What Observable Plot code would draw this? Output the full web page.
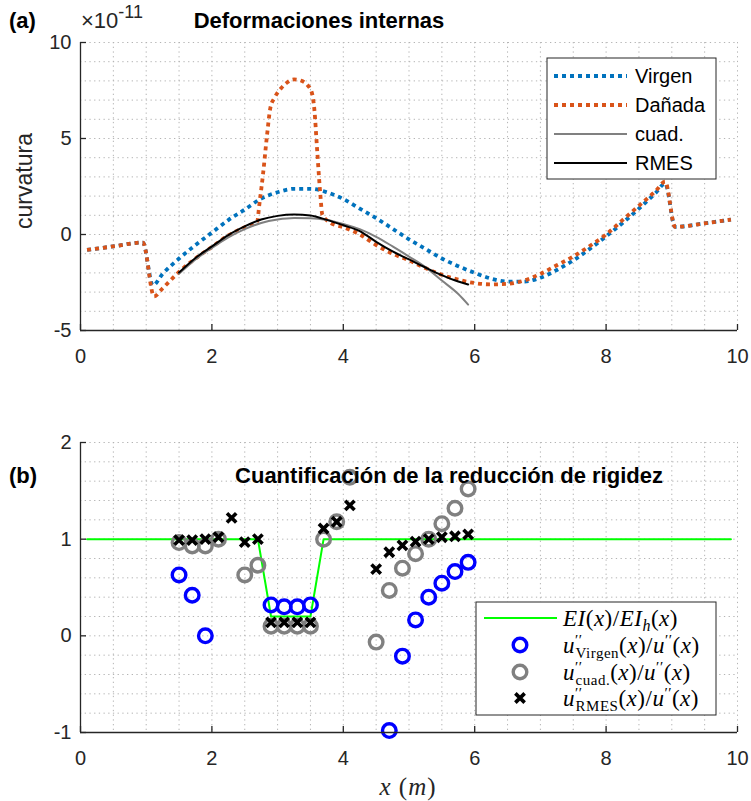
<!DOCTYPE html>
<html><head><meta charset="utf-8">
<script src="https://cdn.jsdelivr.net/npm/d3@7"></script>
<script src="https://cdn.jsdelivr.net/npm/@observablehq/plot@0.6"></script>
<style>
body{margin:0;background:#fff;}
#wrap{position:relative;width:751px;height:801px;}
#wrap svg{display:block;}
</style></head><body><div id="wrap"></div>
<script>
// ---------- Panel (a): curvatura (×1e-11) ----------
const xVirgen = [0.1,0.5,0.95,1.1,1.25,1.5,1.75,2.0,2.25,2.5,2.75,3.0,3.25,3.5,3.75,4.0,4.25,4.5,4.75,5.0,5.25,5.5,5.75,6.0,6.25,6.5,6.75,7.0,7.25,7.5,7.75,8.0,8.25,8.5,8.75,8.9,9.05,9.5,9.9];
const yVirgen = [-0.80,-0.62,-0.42,-2.65,-2.05,-1.25,-0.55,0.10,0.75,1.30,1.87,2.20,2.38,2.38,2.20,1.85,1.35,0.85,0.30,-0.25,-0.75,-1.25,-1.65,-2.00,-2.30,-2.45,-2.45,-2.25,-1.85,-1.35,-0.75,-0.10,0.60,1.35,2.15,2.65,0.40,0.58,0.78];

const xDanada = [0.1,0.5,0.95,1.12,1.25,1.5,1.75,2.0,2.25,2.5,2.69,2.72,2.78,2.84,2.89,2.95,3.05,3.15,3.25,3.35,3.45,3.52,3.56,3.6,3.65,3.68,3.8,4.0,4.25,4.5,4.75,5.0,5.25,5.5,5.75,6.0,6.25,6.5,6.75,7.0,7.25,7.5,7.75,8.0,8.25,8.5,8.75,8.9,9.05,9.5,9.9];
const yDanada = [-0.80,-0.62,-0.42,-3.22,-2.80,-1.95,-1.25,-0.65,-0.05,0.38,0.68,1.5,3.2,5.2,6.6,7.1,7.6,7.93,8.08,8.02,7.8,7.4,6.5,4.5,2.1,1.05,0.62,0.38,0.0,-0.55,-1.0,-1.35,-1.75,-2.1,-2.35,-2.53,-2.6,-2.57,-2.4,-2.05,-1.6,-1.15,-0.6,0.0,0.75,1.5,2.25,2.75,0.40,0.58,0.78];

const xFit = [1.5,1.75,2.0,2.25,2.5,2.75,3.0,3.25,3.5,3.75,4.0,4.25,4.5,4.75,5.0,5.25,5.5,5.75,5.9];
const yCuad = [-2.05,-1.3,-0.7,-0.15,0.28,0.6,0.78,0.86,0.85,0.76,0.55,0.28,-0.12,-0.62,-1.15,-1.7,-2.4,-3.1,-3.65];
const yRmes = [-1.98,-1.22,-0.62,-0.03,0.42,0.78,0.97,1.04,0.99,0.76,0.48,0.18,-0.38,-0.88,-1.3,-1.72,-2.12,-2.45,-2.6];

const xTicks = [0,2,4,6,8,10];
const yTicksA = [-5,0,5,10];
const xGrid = [0.5,1,1.5,2,2.5,3,3.5,4,4.5,5,5.5,6,6.5,7,7.5,8,8.5,9,9.5,10];
const yGridA = [-4,-3,-2,-1,0,1,2,3,4,5,6,7,8,9,10];

// ---------- Panel (b): reduction of stiffness ----------
const xEI = [0.1,2.7,2.9,3.5,3.7,9.9];
const yEI = [1,1,0.2,0.2,1,1];

const xRatioVirgen = [1.5,1.7,1.9,2.9,3.1,3.3,3.5,4.7,4.9,5.1,5.3,5.5,5.7,5.9];
const yRatioVirgen = [0.63,0.42,0.0,0.32,0.30,0.30,0.32,-0.98,-0.21,0.165,0.40,0.545,0.665,0.76];

const xRatioCuad = [1.5,1.7,1.9,2.1,2.5,2.7,2.9,3.1,3.3,3.5,3.7,3.9,4.1,4.5,4.7,4.9,5.1,5.3,5.5,5.7,5.9];
const yRatioCuad = [0.965,0.93,0.93,1.0,0.63,0.73,0.10,0.10,0.10,0.10,1.0,1.18,1.64,-0.065,0.47,0.70,0.85,1.0,1.16,1.32,1.52];

const xRatioRmes = [1.5,1.7,1.9,2.1,2.3,2.5,2.7,2.9,3.1,3.3,3.5,3.7,3.9,4.1,4.5,4.7,4.9,5.1,5.3,5.5,5.7,5.9];
const yRatioRmes = [0.99,0.99,1.0,1.02,1.22,0.97,1.0,0.14,0.14,0.14,0.14,1.11,1.18,1.35,0.69,0.865,0.935,0.975,1.0,1.02,1.03,1.05];

const yTicksB = [-1,0,1,2];
const yGridB = [-0.8,-0.6,-0.4,-0.2,0,0.2,0.4,0.6,0.8,1,1.2,1.4,1.6,1.8,2];

// ---------- helpers ----------
const zip = (xs, ys) => xs.map((x, i) => ({x, y: ys[i]}));
const AX = "#262626";
const GRID = {stroke: "#b4b4b4", strokeWidth: 1, strokeDasharray: "1.3,3.4"};
const BLUE = "#0072BD", ORANGE = "#D95319", GRAY = "#808080";
const DOT = {strokeWidth: 3.8, strokeDasharray: "4,4", strokeLinecap: "butt"};
const W = 751, ML = 80, MR = 14;
const FW = W - ML - MR;
const fmt = d => String(d);
const style = {fontFamily: '"Liberation Sans", Arial, sans-serif', fontSize: "20px", color: AX, background: "white", overflow: "visible"};

// ---------- Plot (a) ----------
const HA = 390, MTA = 42, MBA = 60, FHA = HA - MTA - MBA;
const svgA = Plot.plot({
  width: W, height: HA, marginLeft: ML, marginRight: MR, marginTop: MTA, marginBottom: MBA,
  style,
  x: {domain: [0, 10]},
  y: {domain: [-5, 10]},
  marks: [
    Plot.ruleX(xGrid, GRID),
    Plot.ruleY(yGridA, GRID),
    Plot.line(zip(xVirgen, yVirgen), {x: "x", y: "y", stroke: BLUE, ...DOT, curve: "monotone-x"}),
    Plot.line(zip(xDanada, yDanada), {x: "x", y: "y", stroke: ORANGE, ...DOT, curve: "monotone-x"}),
    Plot.line(zip(xFit, yCuad), {x: "x", y: "y", stroke: GRAY, strokeWidth: 2, curve: "monotone-x"}),
    Plot.line(zip(xFit, yRmes), {x: "x", y: "y", stroke: "black", strokeWidth: 2, curve: "monotone-x"}),
    Plot.ruleX([0], {stroke: AX, strokeWidth: 1.3}),
    Plot.ruleY([-5], {stroke: AX, strokeWidth: 1.3}),
    Plot.ruleX(xTicks, {stroke: AX, strokeWidth: 1.3, insetTop: FHA - 6}),
    Plot.ruleY(yTicksA, {stroke: AX, strokeWidth: 1.3, insetRight: FW - 6}),
    Plot.axisX(xTicks, {tickSize: 0, tickPadding: 18, label: null, tickFormat: fmt}),
    Plot.axisY(yTicksA, {tickSize: 0, tickPadding: 9, label: null, tickFormat: fmt})
  ]
});

// ---------- Plot (b) ----------
const HB = 411, MTB = 52, MBB = 69, FHB = HB - MTB - MBB;
const svgB = Plot.plot({
  width: W, height: HB, marginLeft: ML, marginRight: MR, marginTop: MTB, marginBottom: MBB,
  style,
  x: {domain: [0, 10]},
  y: {domain: [-1, 2]},
  marks: [
    Plot.ruleX(xGrid, GRID),
    Plot.ruleY(yGridB, GRID),
    Plot.line(zip(xEI, yEI), {x: "x", y: "y", stroke: "#00FF00", strokeWidth: 2}),
    Plot.dot(zip(xRatioVirgen, yRatioVirgen), {x: "x", y: "y", r: 6.8, stroke: "#0000FF", strokeWidth: 3.4, fill: "none"}),
    Plot.dot(zip(xRatioCuad, yRatioCuad), {x: "x", y: "y", r: 6.8, stroke: GRAY, strokeWidth: 3.4, fill: "none"}),
    Plot.dot(zip(xRatioRmes, yRatioRmes), {x: "x", y: "y", symbol: "times", r: 4.3, stroke: "black", strokeWidth: 3.6}),
    Plot.ruleX([0], {stroke: AX, strokeWidth: 1.3}),
    Plot.ruleY([-1], {stroke: AX, strokeWidth: 1.3}),
    Plot.ruleX(xTicks, {stroke: AX, strokeWidth: 1.3, insetTop: FHB - 6}),
    Plot.ruleY(yTicksB, {stroke: AX, strokeWidth: 1.3, insetRight: FW - 6}),
    Plot.axisX(xTicks, {tickSize: 0, tickPadding: 18, label: null, tickFormat: fmt}),
    Plot.axisY(yTicksB, {tickSize: 0, tickPadding: 9, label: null, tickFormat: fmt})
  ]
});

const wrap = document.getElementById("wrap");
wrap.append(svgA, svgB);

const txt = (sel, x, y, anchor = "start") => sel.append("text").attr("x", x).attr("y", y).attr("text-anchor", anchor);

// ---------- annotations panel (a) ----------
const A = d3.select(svgA);
txt(A, 9, 28).attr("font-weight", "bold").attr("font-size", 22).attr("fill", "#000").text("(a)");
txt(A, 319, 28, "middle").attr("font-weight", "bold").attr("font-size", 22).attr("fill", "#000").text("Deformaciones internas");
txt(A, 81, 28).attr("font-size", 22).attr("fill", AX)
  .html('×10<tspan dy="-10" font-size="18">-11</tspan>');
A.append("text").attr("transform", "translate(32,181) rotate(-90)").attr("text-anchor", "middle").attr("font-size", 23).attr("fill", AX).text("curvatura");

const legA = A.append("g");
legA.append("rect").attr("x", 547).attr("y", 58).attr("width", 169).attr("height", 121).attr("fill", "white").attr("stroke", AX).attr("stroke-width", 1);
const itemsA = [
  {label: "Virgen", stroke: BLUE, dash: true},
  {label: "Dañada", stroke: ORANGE, dash: true},
  {label: "cuad.", stroke: GRAY, dash: false},
  {label: "RMES", stroke: "black", dash: false}
];
itemsA.forEach((d, i) => {
  const cy = 76 + i * 29;
  const ln = legA.append("line").attr("x1", 554).attr("x2", 627).attr("y1", cy).attr("y2", cy).attr("stroke", d.stroke);
  if (d.dash) ln.attr("stroke-width", 3.8).attr("stroke-dasharray", "4,4"); else ln.attr("stroke-width", 2);
  txt(legA, 635, cy).attr("dy", "0.36em").attr("font-size", 20).attr("fill", "#000").text(d.label);
});

// ---------- annotations panel (b) ----------
const B = d3.select(svgB);
txt(B, 9, 93).attr("font-weight", "bold").attr("font-size", 22).attr("fill", "#000").text("(b)");
txt(B, 449, 93, "middle").attr("font-weight", "bold").attr("font-size", 22).attr("fill", "#000").text("Cuantificación de la reducción de rigidez");
txt(B, 408, 405, "middle").attr("font-family", '"Liberation Serif", serif').attr("font-size", 25).attr("fill", AX).attr("letter-spacing", 1)
  .html('<tspan font-style="italic">x</tspan> (<tspan font-style="italic">m</tspan>)');

const legB = B.append("g");
legB.append("rect").attr("x", 476).attr("y", 212).attr("width", 240).attr("height", 113).attr("fill", "white").attr("stroke", AX).attr("stroke-width", 1);
const serif = '"Liberation Serif", serif';
const it = s => `<tspan font-style="italic">${s}</tspan>`;
const pp = (sub) => `${it("u")}<tspan font-size="15" dy="-8">′′</tspan><tspan font-size="15" dx="-7" dy="13">${sub}</tspan><tspan dy="-5">(</tspan>${it("x")})/${it("u")}<tspan font-size="15" dy="-8">′′</tspan><tspan dy="8">(</tspan>${it("x")})`;
const labelsB = [
  `${it("EI")}(${it("x")})/${it("EI")}<tspan font-style="italic" font-size="16" dy="5">h</tspan><tspan dy="-5">(</tspan>${it("x")})`,
  pp("Virgen"), pp("cuad."), pp("RMES")
];
const cyB = [228, 255, 282, 308];
legB.append("line").attr("x1", 484).attr("x2", 557).attr("y1", cyB[0]).attr("y2", cyB[0]).attr("stroke", "#00FF00").attr("stroke-width", 2);
legB.append("circle").attr("cx", 520).attr("cy", cyB[1]).attr("r", 6.8).attr("fill", "none").attr("stroke", "#0000FF").attr("stroke-width", 3.4);
legB.append("circle").attr("cx", 520).attr("cy", cyB[2]).attr("r", 6.8).attr("fill", "none").attr("stroke", GRAY).attr("stroke-width", 3.4);
legB.append("path").attr("d", d3.symbol(d3.symbolTimes, Math.PI * 4.3 * 4.3)()).attr("transform", `translate(520,${cyB[3]})`).attr("fill", "none").attr("stroke", "black").attr("stroke-width", 3.6);
labelsB.forEach((h, i) => {
  txt(legB, 563, cyB[i]).attr("dy", "0.33em").attr("font-family", serif).attr("font-size", 23).attr("fill", "#000").attr("letter-spacing", 0.5).html(h);
});
</script>
</body></html>
